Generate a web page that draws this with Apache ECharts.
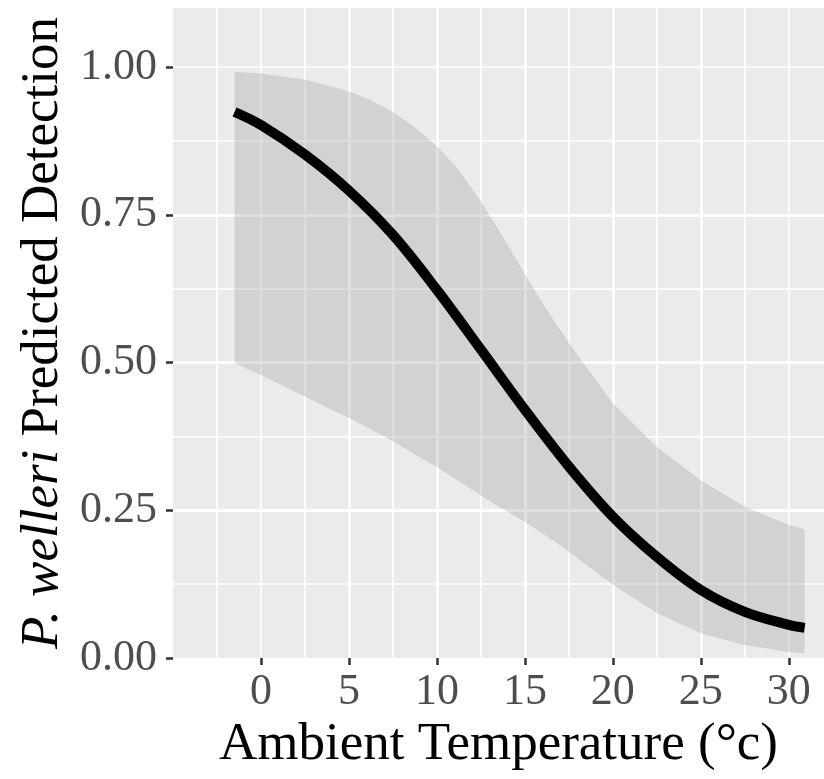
<!DOCTYPE html>
<html>
<head>
<meta charset="utf-8">
<script src="https://cdn.jsdelivr.net/npm/echarts@6/dist/echarts.min.js"></script>
<style>
html,body{margin:0;padding:0;background:#fff;}
#c{width:824px;height:779px;}
</style>
</head>
<body>
<div id="c"></div>
<script>
// Fitted curve: ambient temperature (°C) and predicted detection
var fitTemps = [-1.5, 0, 2.5, 5, 7.5, 10, 12.5, 15, 17.5, 20, 22.5, 25, 27.5, 30, 30.9];
var fitValues = [0.924, 0.902, 0.852, 0.791, 0.716, 0.623, 0.522, 0.420, 0.324, 0.239, 0.171, 0.115, 0.078, 0.056, 0.051];
// Confidence band
var bandTemps = [-1.5, 0, 2.5, 5, 6.25, 7.5, 8.75, 10, 11.25, 12.5, 13.75, 15, 16.25, 17.5, 18.75, 20, 22.5, 25, 27.5, 30, 30.9];
var lowerValues = [0.499, 0.479, 0.442, 0.406, 0.387, 0.367, 0.345, 0.323, 0.299, 0.275, 0.252, 0.230, 0.206, 0.180, 0.152, 0.124, 0.076, 0.042, 0.022, 0.010, 0.008];
var upperValues = [0.992, 0.989, 0.979, 0.959, 0.944, 0.924, 0.898, 0.866, 0.826, 0.773, 0.713, 0.650, 0.589, 0.533, 0.482, 0.431, 0.357, 0.301, 0.256, 0.225, 0.218];
// Tick labels
var xTicks = [0, 5, 10, 15, 20, 25, 30];
var yTicks = [0, 0.25, 0.5, 0.75, 1.0];

var FONT = "'Liberation Serif','DejaVu Serif',serif";

var fitData = fitTemps.map(function (t, i) { return [t, fitValues[i]]; });
var bandData = bandTemps.map(function (t, i) { return [t, lowerValues[i], upperValues[i]]; });

var chart = echarts.init(document.getElementById('c'), null, { renderer: 'canvas' });
chart.setOption({
  backgroundColor: '#ffffff',
  animation: false,
  grid: { left: 173, right: 0, top: 8, bottom: 121, show: true, backgroundColor: '#EBEBEB', borderWidth: 0 },
  xAxis: [
    {
      type: 'value', min: -5, max: 32, interval: 5,
      axisLine: { show: false, onZero: false },
      axisTick: { show: true, length: 7, lineStyle: { color: '#333333', width: 2.5 }, customValues: xTicks },
      axisLabel: { customValues: xTicks, color: '#4D4D4D', fontFamily: FONT, fontSize: 44, margin: 12 },
      splitLine: { show: true, showMinLine: false, showMaxLine: false, lineStyle: { color: '#ffffff', width: 3 } },
      name: 'Ambient Temperature (°c)', nameLocation: 'middle', nameGap: 58,
      nameTextStyle: { color: '#000000', fontFamily: FONT, fontSize: 53 }
    },
    {
      type: 'value', min: -5, max: 32, interval: 2.5, position: 'bottom',
      axisLine: { show: false, onZero: false }, axisTick: { show: false }, axisLabel: { show: false },
      splitLine: { show: true, showMinLine: false, showMaxLine: false, lineStyle: { color: '#ffffff', width: 1.6 } }
    }
  ],
  yAxis: [
    {
      type: 'value', min: 0, max: 1.1, interval: 0.25,
      axisLine: { show: false, onZero: false },
      axisTick: { show: true, length: 7, lineStyle: { color: '#333333', width: 2.5 }, customValues: yTicks },
      axisLabel: { customValues: yTicks, color: '#4D4D4D', fontFamily: FONT, fontSize: 44, margin: 16,
        formatter: function (v) { return v.toFixed(2); } },
      splitLine: { show: true, showMinLine: false, showMaxLine: false, lineStyle: { color: '#ffffff', width: 3 } },
      name: '{i|P. welleri} Predicted Detection', nameLocation: 'middle', nameGap: 100, nameRotate: 90,
      nameTextStyle: { color: '#000000', fontFamily: FONT, fontSize: 53,
        rich: { i: { fontStyle: 'italic', fontFamily: FONT, fontSize: 53, color: '#000000' } } }
    },
    {
      type: 'value', min: 0, max: 1.1, interval: 0.125, position: 'left',
      axisLine: { show: false, onZero: false }, axisTick: { show: false }, axisLabel: { show: false },
      splitLine: { show: true, showMinLine: false, showMaxLine: false, lineStyle: { color: '#ffffff', width: 1.6 } }
    }
  ],
  series: [
    {
      type: 'custom', data: bandData, silent: true, z: 1,
      renderItem: function (params, api) {
        if (params.dataIndex !== 0) return null;
        var pts = [];
        for (var i = 0; i < bandData.length; i++) pts.push(api.coord([bandData[i][0], bandData[i][2]]));
        for (var j = bandData.length - 1; j >= 0; j--) pts.push(api.coord([bandData[j][0], bandData[j][1]]));
        return { type: 'polygon', shape: { points: pts }, style: { fill: 'rgba(153,153,153,0.3)' } };
      },
      encode: { x: 0, y: [1, 2] }
    },
    {
      type: 'line', data: fitData, symbol: 'none', smooth: 0.35, z: 3,
      lineStyle: { color: '#000000', width: 10, cap: 'butt' }
    }
  ]
});
</script>
</body>
</html>
